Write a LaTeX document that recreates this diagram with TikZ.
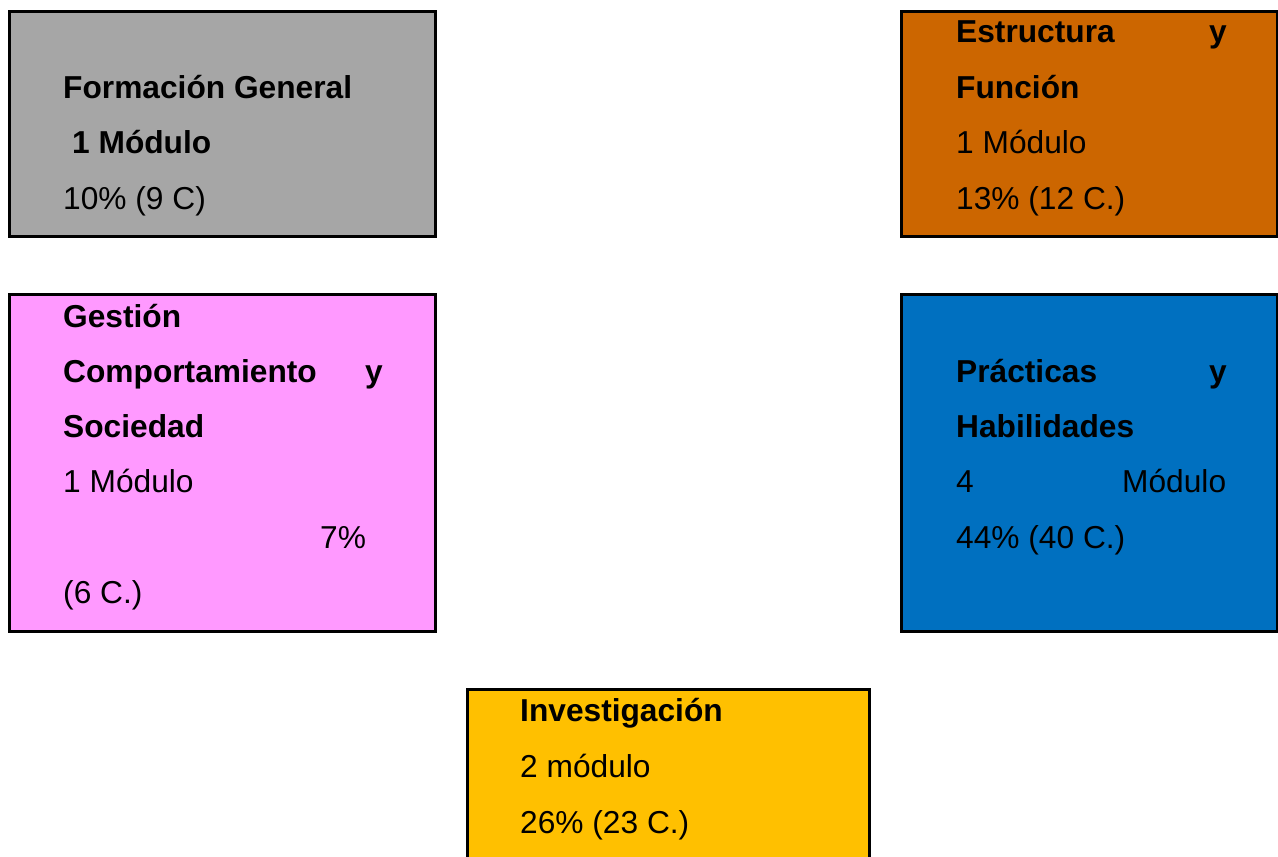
\documentclass[tikz,border=0pt]{standalone}
\usepackage{fontspec}
\setmainfont{Liberation Sans}
\usepackage{xcolor}

\definecolor{cajagris}{HTML}{A6A6A6}
\definecolor{cajanaranja}{HTML}{CC6600}
\definecolor{cajarosa}{HTML}{FF99FF}
\definecolor{cajaazul}{HTML}{0070C0}
\definecolor{cajaamarilla}{HTML}{FFC000}

\begin{document}
\begin{tikzpicture}[x=1pt, y=-1pt,
  caja/.style={draw=black, line width=3pt},
  txt/.style={anchor=base west, inner sep=0pt, font=\fontsize{31.7}{38}\selectfont},
  txtb/.style={txt, font=\fontsize{31.7}{38}\selectfont\bfseries}]
\useasboundingbox (0,0) rectangle (1278,857);
\clip (0,0) rectangle (1278,857);
% cajas
\draw[caja, fill=cajagris] (9,11) rectangle (435,236);
\node[inner sep=0pt] (formacion) at (222,123.5) {};
\draw[caja, fill=cajanaranja] (901,11) rectangle (1277,236);
\node[inner sep=0pt] (estructura) at (1089,123.5) {};
\draw[caja, fill=cajarosa] (9,294) rectangle (435,631);
\node[inner sep=0pt] (gestion) at (222,462.5) {};
\draw[caja, fill=cajaazul] (901,294) rectangle (1277,631);
\node[inner sep=0pt] (practicas) at (1089,462.5) {};
\draw[caja, fill=cajaamarilla] (467,689) rectangle (869,880);
\node[inner sep=0pt] (investigacion) at (668,780) {};
% formacion general
\node[txtb] (fg1) at (63,98) {Formación General};
\node[txtb] (fg2) at (72,153) {1 Módulo};
\node[txt] (fg3) at (63,209) {10\% (9 C)};
% estructura y funcion
\node[txtb] (ef1) at (956,42) {Estructura};
\node[txtb] (ef1y) at (1209,42) {y};
\node[txtb] (ef2) at (956,98) {Función};
\node[txt] (ef3) at (956,153) {1 Módulo};
\node[txt] (ef4) at (956,209) {13\% (12 C.)};
% gestion
\node[txtb] (gc1) at (63,327) {Gestión};
\node[txtb] (gc2) at (63,382) {Comportamiento};
\node[txtb] (gc2y) at (365,382) {y};
\node[txtb] (gc3) at (63,437) {Sociedad};
\node[txt] (gc4) at (63,492) {1 Módulo};
\node[txt] (gc5) at (320,548) {7\%};
\node[txt] (gc6) at (63,603) {(6 C.)};
% practicas
\node[txtb] (ph1) at (956,382) {Prácticas};
\node[txtb] (ph1y) at (1209,382) {y};
\node[txtb] (ph2) at (956,437) {Habilidades};
\node[txt] (ph3) at (956,492) {4};
\node[txt] (ph3m) at (1122,492) {Módulo};
\node[txt] (ph4) at (956,548) {44\% (40 C.)};
% investigacion
\node[txtb] (iv1) at (520,721) {Investigación};
\node[txt] (iv2) at (520,777) {2 módulo};
\node[txt] (iv3) at (520,833) {26\% (23 C.)};
\end{tikzpicture}
\end{document}
